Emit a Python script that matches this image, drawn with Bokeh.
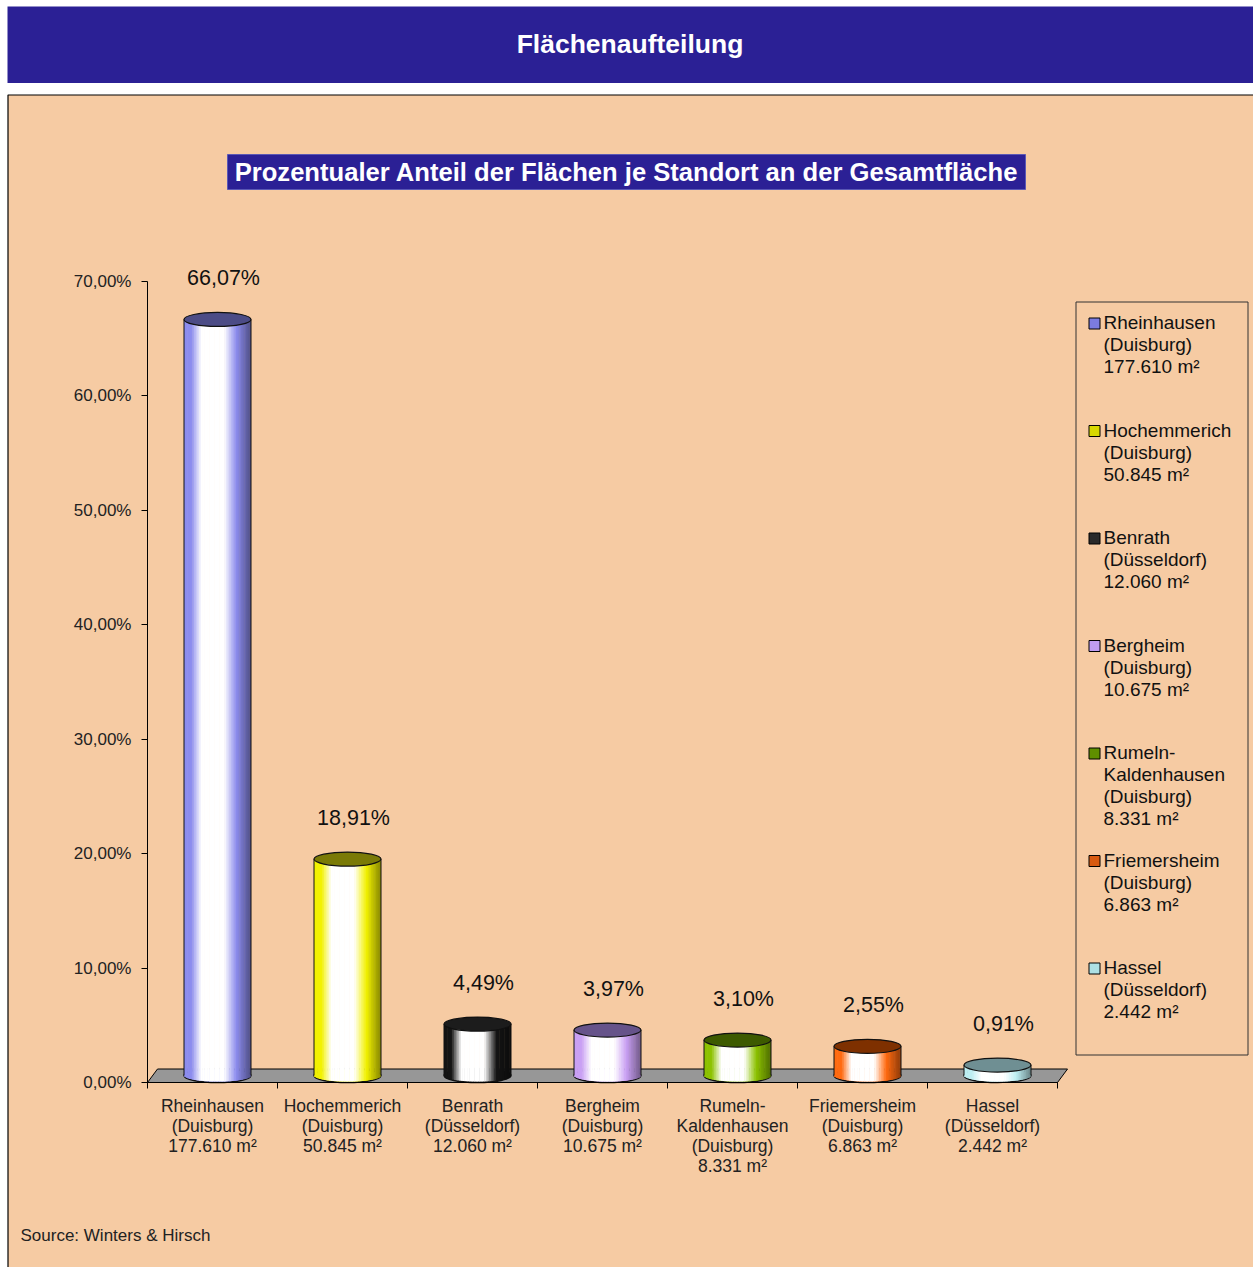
import math
from bokeh.plotting import figure
from bokeh.models import (Range1d, FixedTicker, BoxAnnotation, Label, LabelSet,
                          ColumnDataSource)
from bokeh.core.properties import value
from bokeh.embed import file_html
from bokeh.resources import INLINE

# ---------------- data ----------------
names = ["Rheinhausen", "Hochemmerich", "Benrath", "Bergheim",
         "Rumeln-\nKaldenhausen", "Friemersheim", "Hassel"]
cities = ["Duisburg", "Duisburg", "Düsseldorf", "Duisburg",
          "Duisburg", "Duisburg", "Düsseldorf"]
areas_m2 = [177610, 50845, 12060, 10675, 8331, 6863, 2442]
shares_pct = [66.07, 18.91, 4.49, 3.97, 3.10, 2.55, 0.91]
y_ticks = [0, 10, 20, 30, 40, 50, 60, 70]

body_colors = ["#8c8cee", "#f2f200", "#141414", "#c9a0f4", "#8cc200", "#ff6a10", "#bdeef2"]
top_colors = ["#4c4c86", "#7a7a06", "#1c1c1c", "#66538a", "#3d5a00", "#7e3000", "#6f8f93"]
swatch_colors = ["#7b7be0", "#d8d800", "#2a2a2a", "#bf9cf0", "#5f8f00", "#d85a10", "#ade0e4"]

title_text = "Flächenaufteilung"
subtitle_text = "Prozentualer Anteil der Flächen je Standort an der Gesamtfläche"
source_text = "Source: Winters & Hirsch"


def fmt_area(a):
    return f"{a:,}".replace(",", ".") + " m²"


def fmt_pct(v):
    return f"{v:.2f}".replace(".", ",") + "%"


# ---------------- layout ----------------
W, H = 1253, 1267
X0_PX, Y0_PX = 147.0, 1082.0      # pixel position of the plot origin
CAT_PX = 130.0
PPY = 801.0 / 70.0
FONT = "Liberation Sans"
PEACH = "#f6cba3"
NAVY = "#2b2095"


def sx(fx):
    return fx


def sy(fy):
    return H - fy


xs0 = -0.5 - X0_PX / CAT_PX
ys0 = -(H - Y0_PX) / PPY
x_range = Range1d(xs0, xs0 + W / CAT_PX)
y_range = Range1d(ys0, ys0 + H / PPY)

p = figure(width=W, height=H, x_range=x_range, y_range=y_range,
           output_backend="svg", toolbar_location=None, title=None,
           min_border=0, min_border_left=0, min_border_right=0,
           min_border_top=0, min_border_bottom=0,
           background_fill_color="white", border_fill_color="white",
           outline_line_color=None)
p.grid.visible = False

DX_BAR = 5 / CAT_PX
DY_BAR = 7 / PPY
p.extra_x_ranges = {"bars": Range1d(x_range.start - DX_BAR, x_range.end - DX_BAR)}
p.extra_y_ranges = {"bars": Range1d(y_range.start - DY_BAR, y_range.end - DY_BAR)}


def box(l, r, t, b, **kw):
    return BoxAnnotation(left=sx(l), right=sx(r), top=sy(t), bottom=sy(b),
                         left_units="screen", right_units="screen",
                         top_units="screen", bottom_units="screen", **kw)


# backgrounds
p.add_layout(box(7.5, W + 20, 94.5, H + 20, fill_color=PEACH, fill_alpha=1,
                 line_color="black", line_alpha=1, line_width=1.2, level="underlay"))
p.add_layout(box(7, W + 20, 6, 82.5, fill_color=NAVY, fill_alpha=1, line_color=None,
                 level="underlay"))

# floor
n = len(shares_pct)
fdx = 10 / CAT_PX
fdy = 13.5 / PPY
p.patch(x=[-0.5, n - 0.5, n - 0.5 + fdx, -0.5 + fdx], y=[0, 0, fdy, fdy],
        fill_color="#979797", line_color="black", line_width=1)


# cylinders
def hex2rgb(c):
    c = c.lstrip("#")
    return [int(c[i:i + 2], 16) for i in (0, 2, 4)]


def mix(c1, c2, f):
    a, b = hex2rgb(c1), hex2rgb(c2)
    return "#%02x%02x%02x" % tuple(int(round(a[i] + (b[i] - a[i]) * f)) for i in range(3))


def shade(base, t):
    dark = mix(base, "#000000", 0.45)
    stops = [(0.0, base), (0.11, base), (0.26, "#ffffff"), (0.60, "#ffffff"),
             (0.78, base), (1.0, dark)]
    for (t0, c0), (t1, c1) in zip(stops[:-1], stops[1:]):
        if t0 <= t <= t1:
            return mix(c0, c1, (t - t0) / (t1 - t0) if t1 > t0 else 0)
    return dark


CYL_W = 67 / CAT_PX
ELL_H = 14
NS = 40
half_e = (ELL_H / 2 - 0.9) / PPY

strip = dict(left=[], right=[], top=[], bottom=[], color=[])
for i, v in enumerate(shares_pct):
    for k in range(NS):
        t0, t1, tm = k / NS, (k + 1) / NS, (k + 0.5) / NS
        u = 2 * tm - 1
        strip["left"].append(i - CYL_W / 2 + t0 * CYL_W)
        strip["right"].append(i - CYL_W / 2 + t1 * CYL_W + (0.004 if k < NS - 1 else 0))
        strip["top"].append(v)
        strip["bottom"].append(-half_e * math.sqrt(max(0.0, 1 - u * u)))
        strip["color"].append(shade(body_colors[i], tm))

cyl = ColumnDataSource(dict(x=list(range(n)), y=shares_pct, zero=[0] * n,
                            body=body_colors, top=top_colors,
                            xl=[i - CYL_W / 2 for i in range(n)],
                            xr=[i + CYL_W / 2 for i in range(n)]))

p.ellipse(x="x", y="zero", width=CYL_W, height=ELL_H, height_units="screen",
          source=cyl, fill_color="body", line_color="#111111", line_width=1.4,
          x_range_name="bars", y_range_name="bars")
p.quad(left="left", right="right", top="top", bottom="bottom", source=ColumnDataSource(strip),
       fill_color="color", line_color=None, x_range_name="bars", y_range_name="bars")
p.segment(x0="xl", y0="zero", x1="xl", y1="y", source=cyl, line_color="#111111",
          line_width=1, x_range_name="bars", y_range_name="bars")
p.segment(x0="xr", y0="zero", x1="xr", y1="y", source=cyl, line_color="#111111",
          line_width=1, x_range_name="bars", y_range_name="bars")
p.ellipse(x="x", y="y", width=CYL_W, height=ELL_H, height_units="screen",
          source=cyl, fill_color="top", line_color="#111111", line_width=1.2,
          x_range_name="bars", y_range_name="bars")

# value labels
p.add_layout(LabelSet(x="x", y="y", text="txt",
                      source=ColumnDataSource(dict(x=list(range(n)), y=shares_pct,
                                                   txt=[fmt_pct(v) for v in shares_pct])),
                      x_range_name="bars", y_range_name="bars",
                      x_offset=6, y_offset=41, text_align="center", text_baseline="middle",
                      text_font=value(FONT), text_font_size="21.5px", text_color="#111111"))

# axes (fixed inside the full-canvas frame)
xa = p.xaxis[0]
xa.fixed_location = 0
xa.ticker = FixedTicker(ticks=list(range(n)), minor_ticks=[k - 0.5 for k in range(n + 1)])
xa.major_label_overrides = {i: f"{names[i]}\n({cities[i]})\n{fmt_area(areas_m2[i])}"
                            for i in range(n)}
xa.bounds = (-0.5, n - 0.5)
xa.major_tick_line_color = None
xa.major_tick_in = 0
xa.major_tick_out = 0
xa.minor_tick_in = 0
xa.minor_tick_out = 6
xa.minor_tick_line_color = "black"
xa.major_label_standoff = 7
xa.axis_line_color = "black"
xa.major_label_text_font = FONT
xa.major_label_text_font_size = "17.5px"
xa.major_label_text_line_height = 1.0
xa.major_label_text_color = "#222222"

ya = p.yaxis[0]
ya.fixed_location = -0.5
ya.ticker = FixedTicker(ticks=y_ticks)
ya.major_label_overrides = {v: fmt_pct(v) for v in y_ticks}
ya.bounds = (0, 70)
ya.major_tick_in = 0
ya.major_tick_out = 6
ya.minor_tick_line_color = None
ya.major_label_standoff = 10
ya.axis_line_color = "black"
ya.major_tick_line_color = "black"
ya.major_label_text_font = FONT
ya.major_label_text_font_size = "17px"
ya.major_label_text_color = "#222222"

# title bar & subtitle
p.add_layout(Label(x=sx(629.5), y=sy(43.5), x_units="screen", y_units="screen",
                   text=title_text, text_align="center", text_baseline="middle",
                   text_font=FONT, text_font_style="bold", text_font_size="26.5px",
                   text_color="white"))
p.add_layout(box(227, 1025, 154, 189, fill_color=NAVY, fill_alpha=1,
                 line_color="#5b58b5", line_alpha=1, line_width=1))
p.add_layout(Label(x=sx(626), y=sy(171.5), x_units="screen", y_units="screen",
                   text=subtitle_text, text_align="center", text_baseline="middle",
                   text_font=FONT, text_font_style="bold", text_font_size="25.6px",
                   text_color="white"))

# source
p.add_layout(Label(x=sx(20), y=sy(1235), x_units="screen", y_units="screen",
                   text=source_text, text_align="left", text_baseline="middle",
                   text_font=FONT, text_font_size="17px", text_color="#222222"))

# legend
p.add_layout(box(1075.5, 1247.5, 301.5, 1054.5, fill_alpha=0,
                 line_color="#333333", line_alpha=1, line_width=1))
LEG_Y0, LEG_PITCH, LEG_LH = 322.0, 107.5, 22.0
leg = dict(x=[], y=[], t=[])
for j in range(n):
    y1 = LEG_Y0 + LEG_PITCH * j
    p.add_layout(box(1088.5, 1099.5, y1 - 4.5, y1 + 6.5, fill_color=swatch_colors[j],
                     fill_alpha=1, line_color="black", line_alpha=1, line_width=1))
    lines = names[j].split("\n") + [f"({cities[j]})", fmt_area(areas_m2[j])]
    for m, s in enumerate(lines):
        leg["x"].append(sx(1103))
        leg["y"].append(sy(y1 + LEG_LH * m))
        leg["t"].append(s)
p.add_layout(LabelSet(x="x", y="y", text="t", source=ColumnDataSource(leg),
                      x_units="screen", y_units="screen", text_align="left",
                      text_baseline="middle", text_font=value(FONT), text_font_size="19px",
                      text_color="#111111"))

open("out.html", "w").write(file_html(p, INLINE))
